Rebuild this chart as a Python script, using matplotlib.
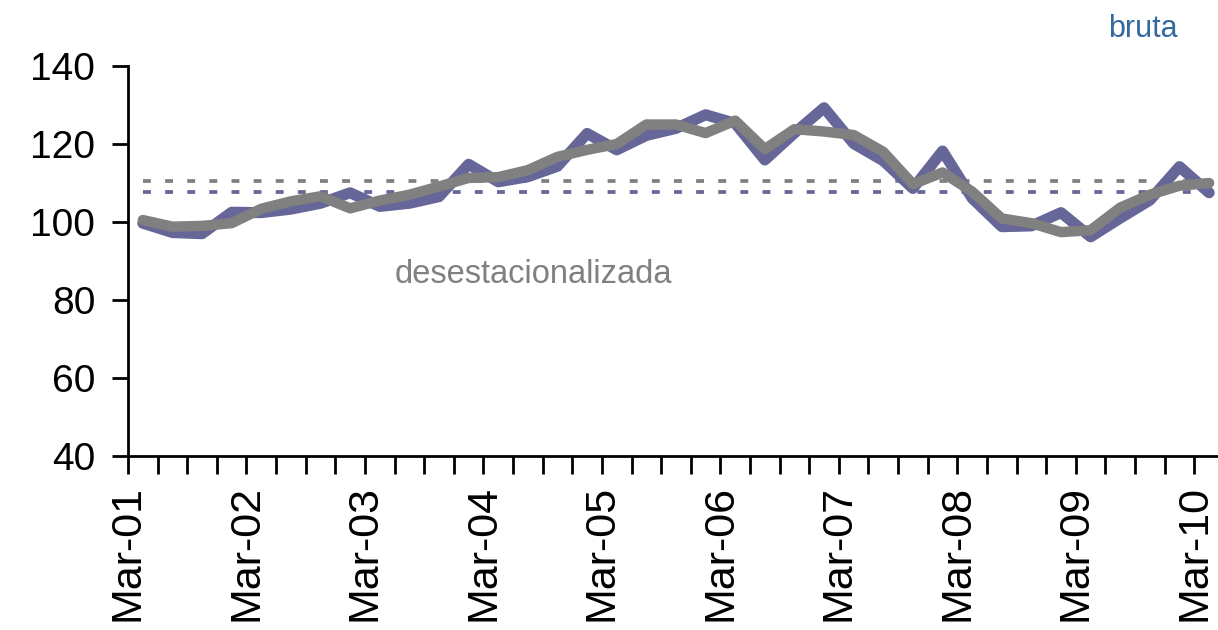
import matplotlib
matplotlib.use("Agg")
import matplotlib.pyplot as plt
from matplotlib import font_manager as fm
import numpy as np

# ---- data (quarterly, Mar-01 .. Mar-10) ----
bruta = [99.7, 97.3, 97.0, 102.5, 102.4, 103.3, 104.8, 107.5, 104.0, 104.8,
         106.5, 114.8, 110.3, 111.6, 114.3, 122.7, 118.5, 122.2, 124.0, 127.5,
         125.3, 115.9, 122.8, 129.3, 120.1, 115.7, 108.6, 118.2, 106.1, 98.8,
         99.0, 102.4, 96.2, 101.0, 105.6, 114.2, 107.5]
desest = [100.5, 98.8, 99.0, 99.7, 103.4, 105.3, 106.6, 103.5, 105.5, 107.0,
          109.1, 111.3, 111.5, 113.3, 116.7, 118.5, 120.0, 125.0, 125.0, 122.8,
          126.0, 118.7, 123.8, 123.2, 122.3, 118.0, 109.7, 112.7, 107.8, 100.9,
          99.7, 97.4, 97.9, 103.7, 107.0, 109.3, 110.0]
media_bruta = 107.7
media_desest = 110.5
year_labels = ['Mar-01', 'Mar-02', 'Mar-03', 'Mar-04', 'Mar-05',
               'Mar-06', 'Mar-07', 'Mar-08', 'Mar-09', 'Mar-10']
y_ticks = [40, 60, 80, 100, 120, 140]

# ---- font ----
def pick(fams):
    for f in fams:
        try:
            fm.findfont(fm.FontProperties(family=f), fallback_to_default=False)
            return f
        except Exception:
            pass
    return 'DejaVu Sans'
font = pick(['Liberation Sans', 'Arial'])
plt.rcParams['font.family'] = [font, 'DejaVu Sans']

PURPLE = '#666699'
GRAY = '#808080'

fig = plt.figure(figsize=(12.18, 6.30), dpi=100)
ax = fig.add_axes([128 / 1218, (630 - 456) / 630, (1218 - 128) / 1218, (456 - 66) / 630])

n = len(bruta)
x = np.arange(n)

ax.plot(x, [media_desest] * n, color=GRAY, lw=2.7, dashes=(2.1, 3.8), zorder=2)
ax.plot(x, [media_bruta] * n, color=PURPLE, lw=2.7, dashes=(2.1, 3.8), zorder=2)
ax.plot(x, bruta, color=PURPLE, lw=8, solid_joinstyle='round',
        solid_capstyle='round', zorder=3, clip_on=False)
ax.plot(x, desest, color=GRAY, lw=7.5, solid_joinstyle='round',
        solid_capstyle='round', zorder=4, clip_on=False)

ax.set_xlim(-0.5, n - 0.7)
ax.set_ylim(40, 140)
ax.set_yticks(y_ticks)
ax.set_yticklabels([str(v) for v in y_ticks])

tick_pos = np.arange(n) - 0.5
labels = [''] * n
for k, lab in enumerate(year_labels):
    labels[4 * k] = lab
ax.set_xticks(tick_pos)
ax.set_xticklabels(labels, rotation=90, va='top', ha='center')

for s in ['top', 'right']:
    ax.spines[s].set_visible(False)
for s in ['left', 'bottom']:
    ax.spines[s].set_linewidth(2)
    ax.spines[s].set_color('black')

ax.tick_params(axis='y', length=11.5, width=2, labelsize=28, pad=12)
ax.tick_params(axis='x', length=13, width=2, labelsize=31, pad=8)

ax.text(8.5, 84.4, 'desestacionalizada', color=GRAY, fontsize=23.5,
        ha='left', va='baseline')
fig.text(1108 / 1218, 1 - 37 / 630, 'bruta', color='#35689F', fontsize=22,
         ha='left', va='baseline')

fig.savefig('out.png', dpi=100)
